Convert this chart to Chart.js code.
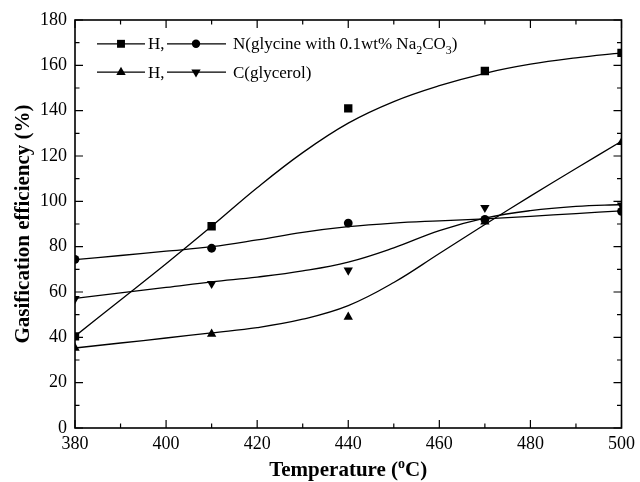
<!DOCTYPE html>
<html>
<head>
<meta charset="utf-8">
<script src="https://cdn.jsdelivr.net/npm/chart.js@4.4.0/dist/chart.umd.min.js"></script>
<style>
  html, body { margin: 0; padding: 0; background: #fff; }
  #wrap { width: 640px; height: 482px; }
</style>
</head>
<body>
<div id="wrap"><canvas id="effChart"></canvas></div>
<script>
// measured points
var temps = [380, 410, 440, 470, 500];
var effH_gly = [40.4, 89, 141, 157.5, 165.5];   // H, glycine + 0.1wt% Na2CO3
var effN_gly = [74.4, 79.3, 90.4, 92, 95.6];    // N, glycine + 0.1wt% Na2CO3
var effH_glc = [35.3, 41.5, 49, 91, 126];       // H, glycerol
var effC_glc = [57, 63.7, 69.6, 97.2, 98.3];    // C, glycerol

// fitted trend curves, every 10 degC
var fitT = [380, 390, 400, 410, 420, 430, 440, 450, 460, 470, 480, 490, 500];
var fitH_gly = [40.5, 56.5, 72.5, 89, 106, 121.5, 134.5, 144, 151, 156.5, 160.5, 163.3, 165.5];
var fitN_gly = [74.3, 76.1, 78, 80, 83, 86.3, 88.8, 90.4, 91.4, 92.3, 93.4, 94.6, 95.8];
var fitH_glc = [35.3, 37.5, 39.7, 42, 44.3, 48, 54, 64.2, 77, 89.8, 102.3, 114.5, 126.5];
var fitC_glc = [57.2, 59.6, 62, 64.5, 66.6, 69.3, 73.2, 79.5, 87.1, 92.6, 95.9, 97.8, 98.6];

var xTicks = [380, 400, 420, 440, 460, 480, 500];
var yTicks = [0, 20, 40, 60, 80, 100, 120, 140, 160, 180];

var SERIF = '"Liberation Serif", "Times New Roman", serif';

function pts(xs, ys) {
  return xs.map(function (x, i) { return { x: x, y: ys[i] }; });
}

function curve(ys) {
  return {
    data: pts(fitT, ys),
    showLine: true,
    borderColor: '#000',
    borderWidth: 1.3,
    pointRadius: 0,
    tension: 0.4,
    fill: false
  };
}

function marks(ys, style, r, rot) {
  return {
    data: pts(temps, ys),
    showLine: false,
    pointStyle: style,
    pointRadius: r,
    pointRotation: rot || 0,
    backgroundColor: '#000',
    borderColor: '#000',
    borderWidth: 0,
    clip: 0
  };
}

function drawMarker(ctx, style, x, y, r) {
  ctx.beginPath();
  if (style === 'rect') {
    var s = r * Math.SQRT1_2;
    ctx.rect(x - s, y - s, 2 * s, 2 * s);
  } else if (style === 'circle') {
    ctx.arc(x, y, r, 0, Math.PI * 2);
  } else {
    var d = style === 'down' ? -1 : 1;
    ctx.moveTo(x, y - d * r);
    ctx.lineTo(x + r * 0.866, y + d * r / 2);
    ctx.lineTo(x - r * 0.866, y + d * r / 2);
    ctx.closePath();
  }
  ctx.fill();
}

// text runs: [text, 'sub' | 'sup' | undefined]
function drawRuns(ctx, runs, x, y, size, weight) {
  runs.forEach(function (r) {
    var small = r[1] ? Math.round(size * 0.68) : size;
    ctx.font = (weight || '') + ' ' + small + 'px ' + SERIF;
    var dy = r[1] === 'sub' ? size * 0.25 : r[1] === 'sup' ? -size * 0.38 : 0;
    ctx.fillText(r[0], x, y + dy);
    x += ctx.measureText(r[0]).width;
  });
  return x;
}

function runsWidth(ctx, runs, size, weight) {
  var w = 0;
  runs.forEach(function (r) {
    var small = r[1] ? Math.round(size * 0.68) : size;
    ctx.font = (weight || '') + ' ' + small + 'px ' + SERIF;
    w += ctx.measureText(r[0]).width;
  });
  return w;
}

var framePlugin = {
  id: 'frame',
  afterDraw: function (chart) {
    var ctx = chart.ctx, a = chart.chartArea;
    var xs = chart.scales.x, ys = chart.scales.y;
    ctx.save();
    ctx.strokeStyle = '#000';
    ctx.fillStyle = '#000';

    // inward ticks on all four sides
    ctx.lineWidth = 1.2;
    ctx.beginPath();
    for (var v = 0; v <= 180; v += 10) {
      var py = ys.getPixelForValue(v);
      var len = v % 20 === 0 ? 8 : 4.5;
      ctx.moveTo(a.left, py); ctx.lineTo(a.left + len, py);
      ctx.moveTo(a.right, py); ctx.lineTo(a.right - len, py);
    }
    for (var t = 380; t <= 500; t += 10) {
      var px = xs.getPixelForValue(t);
      var l2 = t % 20 === 0 ? 8 : 4.5;
      ctx.moveTo(px, a.bottom); ctx.lineTo(px, a.bottom - l2);
      ctx.moveTo(px, a.top); ctx.lineTo(px, a.top + l2);
    }
    ctx.stroke();

    ctx.lineWidth = 1.6;
    ctx.strokeRect(a.left, a.top, a.right - a.left, a.bottom - a.top);

    // axis titles
    ctx.textBaseline = 'alphabetic';
    ctx.textAlign = 'left';
    var xt = [['Temperature ('], ['o', 'sup'], ['C)']];
    var w = runsWidth(ctx, xt, 21, 'bold');
    drawRuns(ctx, xt, (a.left + a.right) / 2 - w / 2, 476, 21, 'bold');

    ctx.save();
    ctx.translate(29, (a.top + a.bottom) / 2);
    ctx.rotate(-Math.PI / 2);
    ctx.font = 'bold 21px ' + SERIF;
    ctx.textAlign = 'center';
    ctx.fillText('Gasification efficiency (%)', 0, 0);
    ctx.restore();

    // legend
    ctx.lineWidth = 1.3;
    var rows = [
      { y: 43.8, a: 'rect', ra: 5.6, b: 'circle', rb: 4.2,
        text: [['N(glycine with 0.1wt% Na'], ['2', 'sub'], ['CO'], ['3', 'sub'], [')']] },
      { y: 72.2, a: 'up', ra: 5.4, b: 'down', rb: 5.4,
        text: [['C(glycerol)']] }
    ];
    rows.forEach(function (r) {
      ctx.beginPath();
      ctx.moveTo(97, r.y); ctx.lineTo(145, r.y);
      ctx.moveTo(167, r.y); ctx.lineTo(226, r.y);
      ctx.stroke();
      drawMarker(ctx, r.a, 121, r.y, r.ra);
      drawMarker(ctx, r.b, 196, r.y, r.rb);
      drawRuns(ctx, [['H,']], 148, r.y + 5.6, 17);
      drawRuns(ctx, r.text, 233, r.y + 5.6, 17);
    });
    ctx.restore();
  }
};

new Chart(document.getElementById('effChart'), {
  type: 'scatter',
  data: {
    datasets: [
      curve(fitH_gly), curve(fitN_gly), curve(fitH_glc), curve(fitC_glc),
      marks(effH_gly, 'rect', 5.9),
      marks(effN_gly, 'circle', 4.4),
      marks(effH_glc, 'triangle', 5.4),
      marks(effC_glc, 'triangle', 5.4, 180)
    ]
  },
  options: {
    responsive: true,
    maintainAspectRatio: false,
    animation: false,
    layout: { padding: { top: 20, right: 16, left: 0, bottom: 0 } },
    plugins: { legend: { display: false }, tooltip: { enabled: false } },
    scales: {
      x: {
        type: 'linear', min: 380, max: 500,
        afterBuildTicks: function (s) { s.ticks = xTicks.map(function (v) { return { value: v }; }); },
        afterFit: function (s) { s.height = 54; },
        grid: { display: false, drawTicks: false },
        border: { display: false },
        ticks: { color: '#000', padding: 5, maxRotation: 0, font: { family: SERIF, size: 18 } }
      },
      y: {
        type: 'linear', min: 0, max: 180,
        afterBuildTicks: function (s) { s.ticks = yTicks.map(function (v) { return { value: v }; }); },
        afterFit: function (s) { s.width = 75; },
        grid: { display: false, drawTicks: false },
        border: { display: false },
        ticks: { color: '#000', padding: 8, font: { family: SERIF, size: 18 } }
      }
    }
  },
  plugins: [framePlugin]
});
</script>
</body>
</html>
